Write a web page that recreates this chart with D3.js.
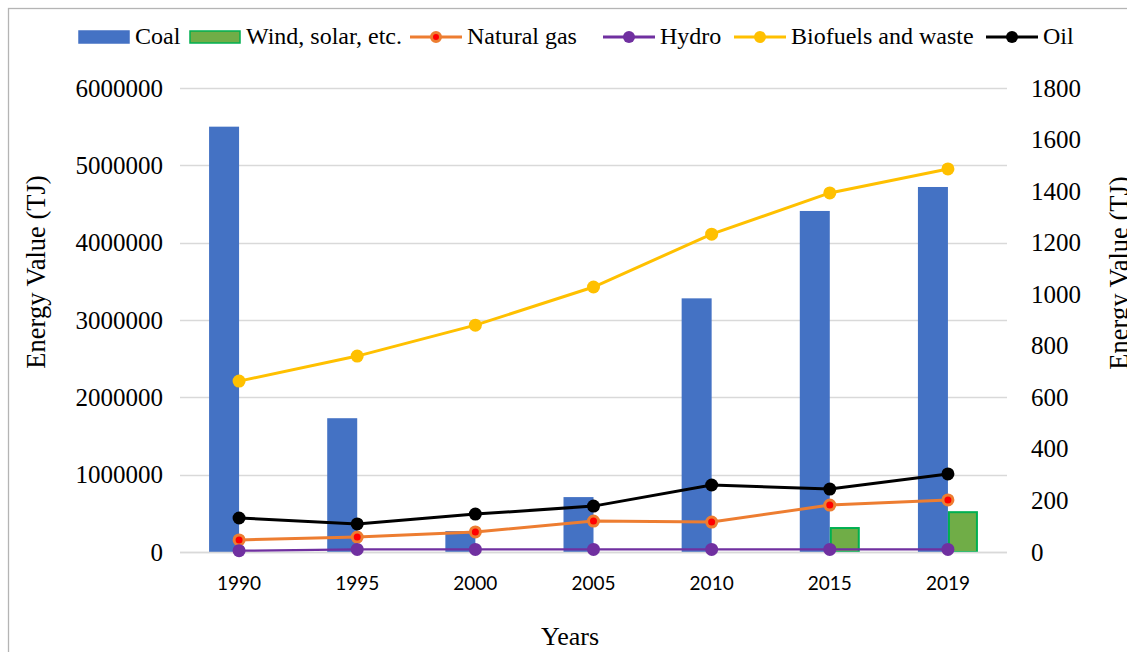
<!DOCTYPE html>
<html>
<head>
<meta charset="utf-8">
<script src="https://cdn.jsdelivr.net/npm/d3@7"></script>
<style>
  body { margin: 0; background: #fff; }
  svg { display: block; }
</style>
</head>
<body>
<div id="chart"></div>
<script>
// data
var years = ["1990", "1995", "2000", "2005", "2010", "2015", "2019"];
var coal = [5500000, 1730000, 270000, 710000, 3280000, 4410000, 4720000];
var windSolar = [0, 0, 0, 0, 0, 310000, 515000];
var naturalGas = [47, 58, 78, 120, 116, 182, 202];
var hydro = [5, 10, 10, 10, 10, 10, 10];
var biofuels = [663, 760, 880, 1028, 1233, 1393, 1486];
var oil = [132, 109, 147, 178, 260, 244, 303];

var leftTicks = [0, 1000000, 2000000, 3000000, 4000000, 5000000, 6000000];
var rightTicks = [0, 200, 400, 600, 800, 1000, 1200, 1400, 1600, 1800];

var W = 1127, H = 652;
var margin = {top: 88, right: 120, bottom: 100, left: 180},
    width = 1007 - margin.left,
    height = 552 - margin.top;

var svg = d3.select("#chart")
  .append("svg")
    .attr("width", W)
    .attr("height", H);

// outer chart border
svg.append("rect")
  .attr("x", 8.5).attr("y", 8.5)
  .attr("width", W + 20).attr("height", H + 20)
  .attr("fill", "none")
  .attr("stroke", "#b4b4b4")
  .attr("stroke-width", 1.3);

var g = svg.append("g")
  .attr("transform", "translate(" + margin.left + "," + margin.top + ")");

var x = d3.scaleBand().domain(years).range([0, width]);
var yL = d3.scaleLinear().domain([0, 6000000]).range([height, 0]);
var yR = d3.scaleLinear().domain([0, 1800]).range([height, 0]);

var serif = "Liberation Serif, Times New Roman, serif";

// gridlines
g.append("g")
  .selectAll("line")
  .data(leftTicks)
  .enter()
  .append("line")
    .attr("x1", 0).attr("x2", width)
    .attr("y1", function(d) { return Math.round(yL(d)) + 0.5; })
    .attr("y2", function(d) { return Math.round(yL(d)) + 0.5; })
    .attr("stroke", "#d9d9d9")
    .attr("stroke-width", 1.3);

// left axis
var axL = g.append("g").call(d3.axisLeft(yL).tickValues(leftTicks).tickSize(0).tickPadding(17).tickFormat(d3.format("d")));
axL.select(".domain").remove();
axL.selectAll("text").style("font-family", serif).style("font-size", "25px").attr("fill", "#000");

// right axis
var axR = g.append("g").attr("transform", "translate(" + width + ",0)")
  .call(d3.axisRight(yR).tickValues(rightTicks).tickSize(0).tickPadding(24).tickFormat(d3.format("d")));
axR.select(".domain").remove();
axR.selectAll("text").style("font-family", serif).style("font-size", "25px").attr("fill", "#000");

// x axis
var axX = g.append("g").attr("transform", "translate(0," + height + ")")
  .call(d3.axisBottom(x).tickSize(0).tickPadding(25));
axX.select(".domain").remove();
axX.selectAll("text").style("font-family", "Lato, Open Sans, sans-serif").style("font-size", "19px").attr("fill", "#000");

// bars
var barW = 30;
g.append("g")
  .selectAll("rect")
  .data(years)
  .enter()
  .append("rect")
    .attr("x", function(d) { return x(d) + x.bandwidth() / 2 - barW; })
    .attr("y", function(d, i) { return yL(coal[i]); })
    .attr("width", barW)
    .attr("height", function(d, i) { return height - yL(coal[i]); })
    .attr("fill", "#4472C4");

g.append("g")
  .selectAll("rect")
  .data(years.filter(function(d, i) { return windSolar[i] > 0; }))
  .enter()
  .append("rect")
    .attr("x", function(d) { return x(d) + x.bandwidth() / 2 + 1; })
    .attr("y", function(d) { return yL(windSolar[years.indexOf(d)]); })
    .attr("width", barW - 2)
    .attr("height", function(d) { return height - yL(windSolar[years.indexOf(d)]); })
    .attr("fill", "#70AD47")
    .attr("stroke", "#00B050")
    .attr("stroke-width", 2);

// baseline axis
g.append("line")
  .attr("x1", 0).attr("x2", width)
  .attr("y1", height + 0.5).attr("y2", height + 0.5)
  .attr("stroke", "#d9d9d9").attr("stroke-width", 1.3);

// lines
var series = [
  {name: "Natural gas", values: naturalGas, color: "#ED7D31", dot: "#FF0000"},
  {name: "Hydro", values: hydro, color: "#7030A0", dot: "#7030A0"},
  {name: "Biofuels and waste", values: biofuels, color: "#FFC000", dot: "#FFC000"},
  {name: "Oil", values: oil, color: "#000000", dot: "#000000"}
];

var line = d3.line()
  .x(function(d, i) { return x(years[i]) + x.bandwidth() / 2; })
  .y(function(d) { return yR(d); });

series.forEach(function(s) {
  var lw = s.name == "Hydro" ? 2.2 : 3;
  g.append("path")
    .datum(s.values)
    .attr("d", line)
    .attr("fill", "none")
    .attr("stroke", s.color)
    .attr("stroke-width", lw);
  g.append("g")
    .selectAll("circle")
    .data(s.values)
    .enter()
    .append("circle")
      .attr("cx", function(d, i) { return x(years[i]) + x.bandwidth() / 2; })
      .attr("cy", function(d) { return yR(d); })
      .attr("r", s.name == "Natural gas" ? 5 : 6.5)
      .attr("fill", s.dot)
      .attr("stroke", s.name == "Natural gas" ? s.color : "none")
      .attr("stroke-width", 3);
});

// axis titles
svg.append("text")
  .attr("transform", "translate(45,272) rotate(-90)")
  .attr("text-anchor", "middle")
  .style("font-family", serif).style("font-size", "26.5px")
  .text("Energy Value (TJ)");

svg.append("text")
  .attr("transform", "translate(1128,273) rotate(-90)")
  .attr("text-anchor", "middle")
  .style("font-family", serif).style("font-size", "26.5px")
  .text("Energy Value (TJ)");

svg.append("text")
  .attr("x", 570).attr("y", 645)
  .attr("text-anchor", "middle")
  .style("font-family", serif).style("font-size", "26px")
  .text("Years");

// legend
var leg = svg.append("g");
var legendItems = [
  {name: "Coal", x: 78, type: "bar", fill: "#4472C4", stroke: "#4472C4"},
  {name: "Wind, solar, etc.", x: 189, type: "bar", fill: "#70AD47", stroke: "#00B050"},
  {name: "Natural gas", x: 410, type: "line", color: "#ED7D31", dot: "#FF0000"},
  {name: "Hydro", x: 603, type: "line", color: "#7030A0", dot: "#7030A0"},
  {name: "Biofuels and waste", x: 734, type: "line", color: "#FFC000", dot: "#FFC000"},
  {name: "Oil", x: 986, type: "line", color: "#000000", dot: "#000000"}
];
legendItems.forEach(function(it) {
  if (it.type == "bar") {
    leg.append("rect")
      .attr("x", it.x + 1).attr("y", 31)
      .attr("width", 50).attr("height", 12)
      .attr("fill", it.fill).attr("stroke", it.stroke).attr("stroke-width", 1.5);
  } else {
    leg.append("line")
      .attr("x1", it.x).attr("x2", it.x + 52)
      .attr("y1", 37).attr("y2", 37)
      .attr("stroke", it.color).attr("stroke-width", 3);
    leg.append("circle")
      .attr("cx", it.x + 26).attr("cy", 37)
      .attr("r", it.name == "Natural gas" ? 4.5 : 6)
      .attr("fill", it.dot)
      .attr("stroke", it.name == "Natural gas" ? it.color : "none")
      .attr("stroke-width", 3);
  }
  leg.append("text")
    .attr("x", it.x + 57).attr("y", 44)
    .style("font-family", serif).style("font-size", "24px")
    .text(it.name);
});
</script>
</body>
</html>
